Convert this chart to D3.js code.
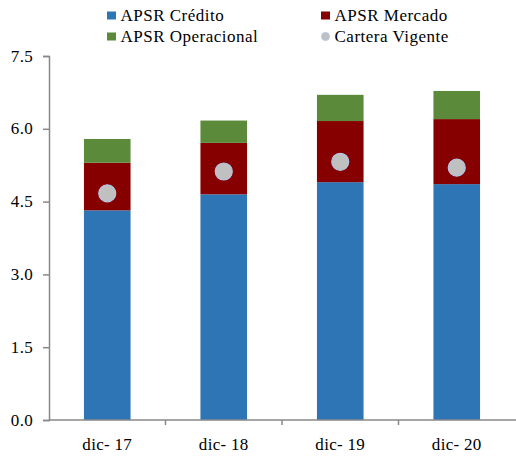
<!DOCTYPE html>
<html>
<head>
<meta charset="utf-8">
<script src="https://cdn.jsdelivr.net/npm/d3@7"></script>
<style>
  body { margin: 0; background: #fff; }
  svg text { font-family: "Liberation Serif", "Times New Roman", serif; fill: #000; }
</style>
</head>
<body>
<div id="chart"></div>
<script>
const w = 516;
const h = 457;

// data
const categories = ['dic-17', 'dic-18', 'dic-19', 'dic-20'];
const credito = [4.32, 4.65, 4.90, 4.86];
const mercado = [0.98, 1.06, 1.26, 1.34];
const operacional = [0.49, 0.46, 0.54, 0.58];
const cartera = [4.67, 5.12, 5.32, 5.20];
const yTicks = [0, 1.5, 3.0, 4.5, 6.0, 7.5];

const seriesNames = ['APSR Crédito', 'APSR Mercado', 'APSR Operacional'];
const colors = ['#2E75B6', '#870000', '#5B8A3B'];

const table = categories.map((c, i) => ({
  cat: c,
  'APSR Crédito': credito[i],
  'APSR Mercado': mercado[i],
  'APSR Operacional': operacional[i]
}));
const stacked = d3.stack().keys(seriesNames)(table);

const margin = {left: 49, right: 0, top: 56, bottom: 37};

const xScale = d3.scaleBand()
  .domain(categories)
  .range([margin.left, w - 1])
  .paddingInner(0.6)
  .paddingOuter(0.3);

const yScale = d3.scaleLinear()
  .domain([0, 7.5])
  .range([h - margin.bottom, margin.top]);

const svg = d3.select('#chart')
  .append('svg')
  .attr('width', w)
  .attr('height', h);

// bars
svg.selectAll('g.series')
  .data(stacked)
  .enter()
  .append('g')
  .attr('class', 'series')
  .attr('fill', (d, i) => colors[i])
  .selectAll('rect')
  .data(d => d)
  .enter()
  .append('rect')
  .attr('x', d => xScale(d.data.cat))
  .attr('y', d => yScale(d[1]))
  .attr('width', xScale.bandwidth())
  .attr('height', d => yScale(d[0]) - yScale(d[1]));

// dots
svg.selectAll('circle.dot')
  .data(cartera)
  .enter()
  .append('circle')
  .attr('class', 'dot')
  .attr('cx', (d, i) => xScale(categories[i]) + xScale.bandwidth() / 2)
  .attr('cy', d => yScale(d))
  .attr('r', 8.5)
  .attr('fill', '#C0C0C0')
  .attr('stroke', '#B4C7E7')
  .attr('stroke-width', 1.2);

// y axis
const yAxis = d3.axisLeft(yScale)
  .tickValues(yTicks)
  .tickFormat(d3.format('.1f'))
  .tickSize(6)
  .tickPadding(10);
const gy = svg.append('g')
  .attr('transform', `translate(${margin.left},0)`)
  .call(yAxis)
  .attr('font-family', null)
  .attr('font-size', null);
gy.select('.domain').attr('stroke', '#888').attr('stroke-width', 1.5);
gy.selectAll('.tick line').attr('stroke', '#888').attr('stroke-width', 1.5);
gy.selectAll('.tick text')
  .attr('font-size', 17)
  .attr('dy', '0.3em')
  .attr('letter-spacing', 0.3);

// x axis
const gx = svg.append('g')
  .attr('transform', `translate(0,${yScale(0)})`);
gx.append('line')
  .attr('x1', margin.left)
  .attr('x2', w)
  .attr('stroke', '#888')
  .attr('stroke-width', 1.5);
const step = xScale.step();
gx.selectAll('line.tick')
  .data(categories.slice(1))
  .enter()
  .append('line')
  .attr('class', 'tick')
  .attr('x1', d => xScale(d) - (step - xScale.bandwidth()) / 2)
  .attr('x2', d => xScale(d) - (step - xScale.bandwidth()) / 2)
  .attr('y1', 0)
  .attr('y2', 5)
  .attr('stroke', '#888')
  .attr('stroke-width', 1.5);
gx.selectAll('text')
  .data(categories)
  .enter()
  .append('text')
  .attr('x', d => xScale(d) + xScale.bandwidth() / 2)
  .attr('y', 30)
  .attr('text-anchor', 'middle')
  .attr('font-size', 17)
  .attr('letter-spacing', 0.3)
  .text(d => d.replace('-', '- '));

// legend
const legendItems = [
  {name: 'APSR Crédito', color: colors[0], x: 107, y: 15.5, type: 'rect'},
  {name: 'APSR Mercado', color: colors[1], x: 321, y: 15.5, type: 'rect'},
  {name: 'APSR Operacional', color: colors[2], x: 107, y: 36.5, type: 'rect'},
  {name: 'Cartera Vigente', color: '#C0C0C0', x: 321, y: 36.5, type: 'circle'}
];
const lg = svg.selectAll('g.legend')
  .data(legendItems)
  .enter()
  .append('g')
  .attr('class', 'legend')
  .attr('transform', d => `translate(${d.x},${d.y})`);
lg.filter(d => d.type === 'rect')
  .append('rect')
  .attr('x', 0)
  .attr('y', -4)
  .attr('width', 9)
  .attr('height', 8)
  .attr('fill', d => d.color);
lg.filter(d => d.type === 'circle')
  .append('circle')
  .attr('cx', 4.5)
  .attr('cy', 0)
  .attr('r', 4)
  .attr('fill', '#C0C0C0')
  .attr('stroke', '#B4C7E7')
  .attr('stroke-width', 1);
lg.append('text')
  .attr('x', 13.5)
  .attr('y', 5.5)
  .attr('font-size', 17)
  .attr('letter-spacing', 0.5)
  .text(d => d.name);
</script>
</body>
</html>
